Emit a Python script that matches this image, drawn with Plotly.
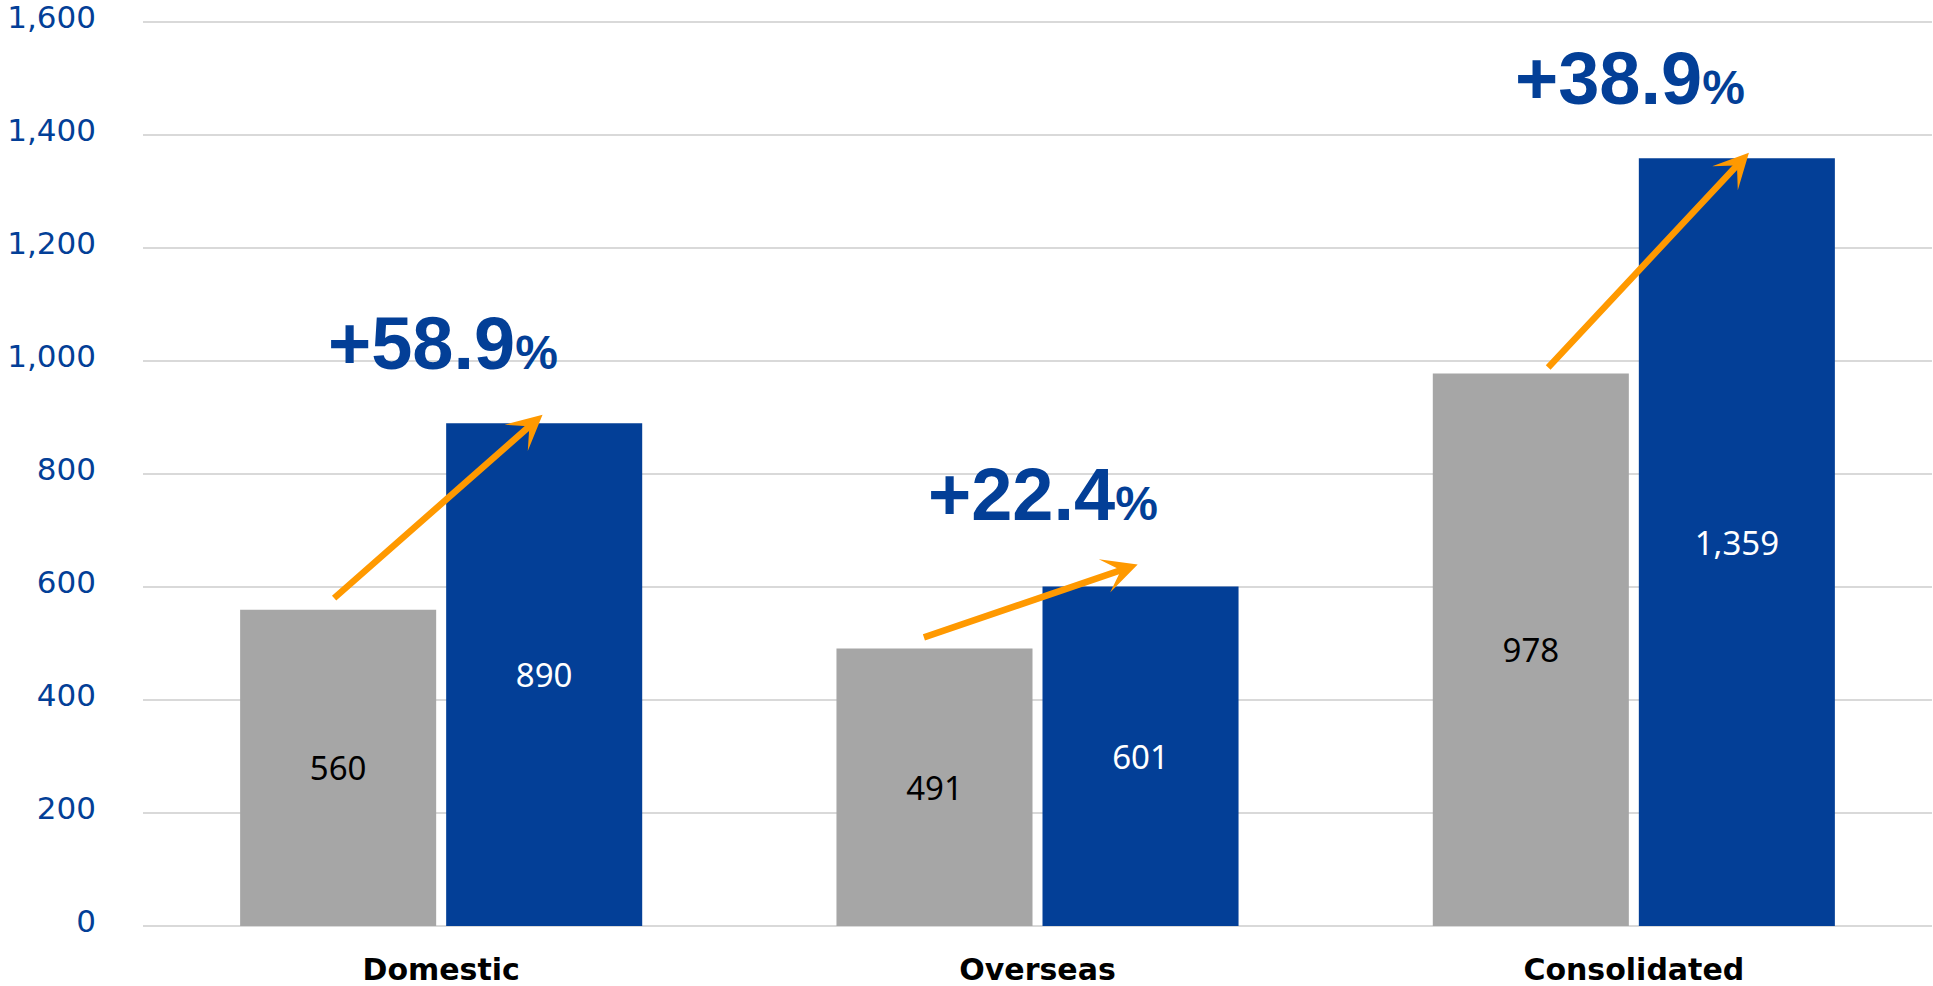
import plotly.graph_objects as go

# ---- data -------------------------------------------------------------
categories = ["Domestic", "Overseas", "Consolidated"]
prev_values = [560, 491, 978]
curr_values = [890, 601, 1359]
growth_labels = ["+58.9", "+22.4", "+38.9"]
y_ticks = [0, 200, 400, 600, 800, 1000, 1200, 1400, 1600]

# ---- styling ----------------------------------------------------------
BLUE = "#033F97"
GRAY = "#A6A6A6"
ORANGE = "#FF9900"
GRID = "#D9D9D9"

fig = go.Figure()
fig.add_trace(go.Bar(
    x=categories, y=prev_values, name="Previous",
    marker=dict(color=GRAY, line=dict(width=0)),
    texttemplate="%{y:,}", textposition="inside", insidetextanchor="middle",
    textangle=0, textfont=dict(family="Noto Sans", size=33, color="#000000"),
    hoverinfo="skip",
))
fig.add_trace(go.Bar(
    x=categories, y=curr_values, name="Current",
    marker=dict(color=BLUE, line=dict(width=0)),
    texttemplate="%{y:,}", textposition="inside", insidetextanchor="middle",
    textangle=0, textfont=dict(family="Noto Sans", size=33, color="#FFFFFF"),
    hoverinfo="skip",
))

# growth arrows: from the previous bar to the current bar
half = 0.173  # bar centre offset from the category centre
tail_dx = [-0.009, -0.020, 0.027]
tip_dx = [-0.003, -0.005, 0.020]
tail_dy = [18, 19, 8]
tip_dy = [15, 39, 10]
for i in range(len(categories)):
    fig.add_annotation(
        x=i + half + tip_dx[i], y=curr_values[i] + tip_dy[i],
        ax=i - half + tail_dx[i], ay=prev_values[i] + tail_dy[i],
        xref="x", yref="y", axref="x", ayref="y",
        showarrow=True, arrowhead=3, arrowsize=0.9, arrowwidth=6.5,
        arrowcolor=ORANGE, standoff=0, startstandoff=0, text="",
    )

# growth percentages above each group
text_shift = [2, 5, -4]
text_lift = [36, 48, 36]
for i, lab in enumerate(growth_labels):
    fig.add_annotation(
        x=i, y=curr_values[i], xref="x", yref="y",
        text=f"{lab}<span style='font-size:48px'>%</span>",
        showarrow=False, yanchor="bottom", xanchor="center",
        xshift=text_shift[i], yshift=text_lift[i],
        font=dict(family="Liberation Sans", size=74, color=BLUE, weight="bold"),
    )

fig.update_layout(
    width=1933, height=986,
    margin=dict(l=143, r=1, t=21, b=60),
    paper_bgcolor="white", plot_bgcolor="white",
    showlegend=False,
    barmode="group", bargap=0.309, bargroupgap=0.0485,
    xaxis=dict(
        tickfont=dict(family="DejaVu Sans", size=30, color="#000000", weight="bold"),
        showgrid=False, showline=False, ticks="", ticklabelstandoff=23,
        automargin=False,
    ),
    yaxis=dict(
        range=[0, 1602], tickvals=y_ticks, tickformat=",",
        tickfont=dict(family="DejaVu Sans", size=31, color=BLUE),
        showgrid=True, gridcolor=GRID, gridwidth=2,
        zeroline=True, zerolinecolor=GRID, zerolinewidth=2,
        showline=False, ticks="", ticklabelstandoff=46, ticklabelshift=-5,
        ticklabeloverflow="allow", automargin=False,
    ),
)

fig.write_html("out.html")
